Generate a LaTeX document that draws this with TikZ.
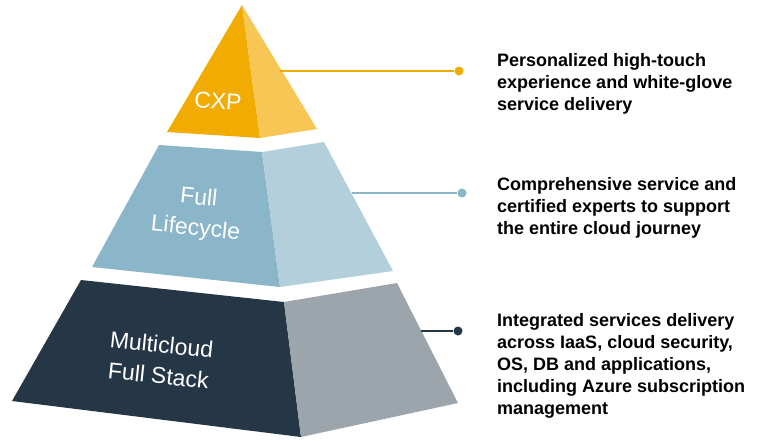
\documentclass[tikz,border=0pt]{standalone}
\usepackage{fontspec}
\setmainfont{Liberation Sans}
\usetikzlibrary{positioning}
\definecolor{cxporange}{RGB}{242,171,0}
\definecolor{cxplight}{RGB}{247,198,84}
\definecolor{lcblue}{RGB}{139,181,200}
\definecolor{lclight}{RGB}{179,207,219}
\definecolor{mcnavy}{RGB}{37,54,70}
\definecolor{mcgray}{RGB}{156,164,172}
\tikzstyle{tierlabel} = [text=white, font=\fontsize{23}{31}\selectfont, align=center]
\tikzstyle{desc} = [anchor=west, font=\bfseries\fontsize{18}{22}\selectfont, align=left, inner sep=0pt]
\tikzstyle{dot} = [circle, inner sep=0pt, minimum size=9pt]
\tikzstyle{leader} = [line width=1.1pt]

\begin{document}
\begin{tikzpicture}[x=1pt, y=-1pt]
    \useasboundingbox (0,0) rectangle (765,440);

    % Tier 1: CXP
    \coordinate (apex) at (242,5);
    \fill[cxporange] (apex) -- (167,132) -- (260,138) -- cycle;
    \fill[cxplight] (apex) -- (260,138) -- (317,129) -- cycle;
    \node[tierlabel, rotate=-4] (cxp) at (218,101) {CXP};
    \coordinate (cxpedge) at (280,71);
    \node[dot, fill=cxporange] (cxpdot) at (459,71) {};
    \draw[leader, cxporange] (cxpedge) -- (cxpdot);
    \node[desc] (cxptext) at (497,83.5) {Personalized high-touch\\experience and white-glove\\service delivery};

    % Tier 2: Full Lifecycle
    \fill[lcblue] (159,145) -- (262,152) -- (280,287) -- (92,267) -- cycle;
    \fill[lclight] (262,152) -- (324,142) -- (393,271) -- (280,287) -- cycle;
    \node[tierlabel, rotate=-6] (lifecycle) at (197,214) {Full\\Lifecycle};
    \coordinate (lcedge) at (352,193);
    \node[dot, fill=lcblue] (lcdot) at (462,193) {};
    \draw[leader, lcblue] (lcedge) -- (lcdot);
    \node[desc] (lctext) at (497,207.5) {Comprehensive service and\\certified experts to support\\the entire cloud journey};

    % Tier 3: Multicloud Full Stack
    \fill[mcnavy] (81,280) -- (284,302) -- (301,437) -- (12,401) -- cycle;
    \fill[mcgray] (284,302) -- (397,283) -- (458,403) -- (301,437) -- cycle;
    \node[tierlabel, rotate=-6] (fullstack) at (160,360) {Multicloud\\Full Stack};
    \coordinate (mcedge) at (421,331);
    \node[dot, fill=mcnavy] (mcdot) at (458,331) {};
    \draw[leader, mcnavy] (mcedge) -- (mcdot);
    \node[desc] (mctext) at (497,366) {Integrated services delivery\\across IaaS, cloud security,\\OS, DB and applications,\\including Azure subscription\\management};
\end{tikzpicture}
\end{document}
